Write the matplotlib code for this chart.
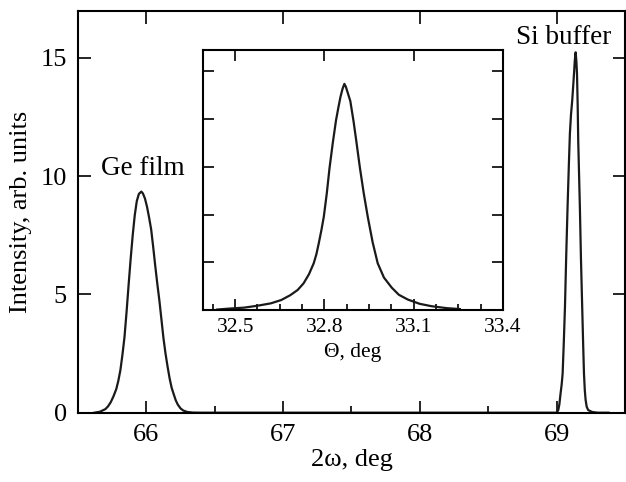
import matplotlib
matplotlib.use("Agg")
import matplotlib.pyplot as plt
from matplotlib.ticker import MultipleLocator, NullFormatter

plt.rcParams["font.family"] = ["Liberation Serif", "DejaVu Serif"]

# Main scan: 2omega (Ge film peak + Si buffer peak)
two_omega = [65.62, 65.66, 65.70, 65.72, 65.74, 65.76, 65.78, 65.795, 65.81,
             65.825, 65.84, 65.855, 65.87, 65.885, 65.90, 65.915, 65.93,
             65.945, 65.963, 65.975, 65.99, 66.005, 66.02, 66.035, 66.05,
             66.065, 66.08, 66.095, 66.11, 66.125, 66.14, 66.155, 66.17,
             66.185, 66.20, 66.215, 66.23, 66.25, 66.27, 66.30, 66.34, 66.40,
             67.50, 68.90,
             69.00, 69.012, 69.02, 69.029, 69.037, 69.044, 69.052, 69.061,
             69.07, 69.080, 69.089, 69.097, 69.105, 69.114, 69.121, 69.127,
             69.133, 69.139, 69.144, 69.149, 69.154, 69.158, 69.164, 69.170,
             69.178, 69.187, 69.194, 69.200, 69.206, 69.212, 69.22, 69.231,
             69.26, 69.30, 69.38]
intensity = [0.0, 0.04, 0.15, 0.27, 0.45, 0.7, 1.0, 1.35, 1.8,
             2.45, 3.2, 4.25, 5.4, 6.5, 7.5, 8.35, 8.95,
             9.25, 9.35, 9.27, 9.05, 8.7, 8.25, 7.75, 7.0,
             6.2, 5.45, 4.75, 3.95, 3.15, 2.5, 1.95, 1.45,
             1.05, 0.78, 0.52, 0.34, 0.18, 0.09, 0.03, 0.005, 0.0,
             0.0, 0.0,
             0.0, 0.11, 0.35, 0.82, 1.2, 1.66, 2.9, 4.47,
             6.6, 8.7, 10.4, 11.8, 12.6, 13.2, 13.8, 14.33,
             14.9, 15.24, 14.9, 14.33, 13.0, 11.5, 10.1, 8.7,
             6.5, 4.47, 2.9, 1.66, 0.95, 0.54, 0.25, 0.11,
             0.03, 0.0, 0.0]

# Inset: theta scan
theta = [32.44, 32.48, 32.53, 32.575, 32.62, 32.655, 32.685, 32.71, 32.73,
         32.748, 32.764, 32.773, 32.781, 32.79, 32.798, 32.808, 32.817,
         32.828, 32.839, 32.847, 32.854, 32.861, 32.867, 32.872, 32.877,
         32.887, 32.898, 32.908, 32.919, 32.932, 32.946, 32.962, 32.979,
         33.0, 33.026, 33.05, 33.08, 33.12, 33.16, 33.21, 33.255]
theta_int = [0.01, 0.03, 0.05, 0.09, 0.14, 0.21, 0.31, 0.42, 0.56,
             0.75, 0.98, 1.17, 1.40, 1.68, 1.96, 2.45, 2.97,
             3.5, 3.98, 4.25, 4.47, 4.64, 4.74, 4.68, 4.58,
             4.38, 3.95, 3.5, 2.99, 2.45, 1.94, 1.42, 0.98,
             0.68, 0.47, 0.32, 0.22, 0.13, 0.08, 0.04, 0.02]

inset_major = [32.5, 32.8, 33.1, 33.4]
inset_minor = [32.425 + 0.075 * k for k in range(14)]

fig = plt.figure(figsize=(6.26, 4.82), dpi=100)
ax = fig.add_axes([0.1246, 0.1438, 0.8738, 0.834])
ax.plot(two_omega, intensity, color="#1a1a1a", lw=1.6, solid_joinstyle="round")
ax.set_xlim(65.5, 69.5)
ax.set_ylim(0, 17)
ax.xaxis.set_major_locator(MultipleLocator(1))
ax.xaxis.set_minor_locator(MultipleLocator(0.5))
ax.yaxis.set_major_locator(MultipleLocator(5))
ax.tick_params(which="both", direction="in", labelsize=19, width=1.2)
ax.tick_params(which="major", length=9, top=True, right=True, pad=8)
ax.tick_params(which="minor", length=5, top=False)
ax.set_xlabel("2ω, deg", fontsize=19, labelpad=2)
ax.set_ylabel("Intensity, arb. units", fontsize=19, labelpad=6)
for s in ax.spines.values():
    s.set_linewidth(1.5)
ax.text(65.973, 10.33, "Ge film", fontsize=19.5, ha="center", va="center")
ax.text(69.053, 15.86, "Si buffer", fontsize=19.5, ha="center", va="center")

# inset
ins = fig.add_axes([0.3243, 0.3568, 0.4792, 0.5394])
ins.plot(theta, theta_int, color="#1a1a1a", lw=1.6, solid_joinstyle="round")
ins.set_xlim(32.392, 33.4)
ins.set_ylim(0, 5.45)
ins.set_xticks(inset_major)
ins.set_xticks(inset_minor, minor=True)
ins.yaxis.set_major_locator(MultipleLocator(1))
ins.yaxis.set_major_formatter(NullFormatter())
ins.tick_params(which="both", direction="in", labelsize=15.5, width=1.2)
ins.tick_params(which="major", length=8, top=True, right=True, pad=6)
ins.tick_params(which="minor", length=4, top=False)
ins.set_xlabel("Θ, deg", fontsize=15.5, labelpad=4)
for s in ins.spines.values():
    s.set_linewidth(1.5)

fig.savefig("out.png", dpi=100)
